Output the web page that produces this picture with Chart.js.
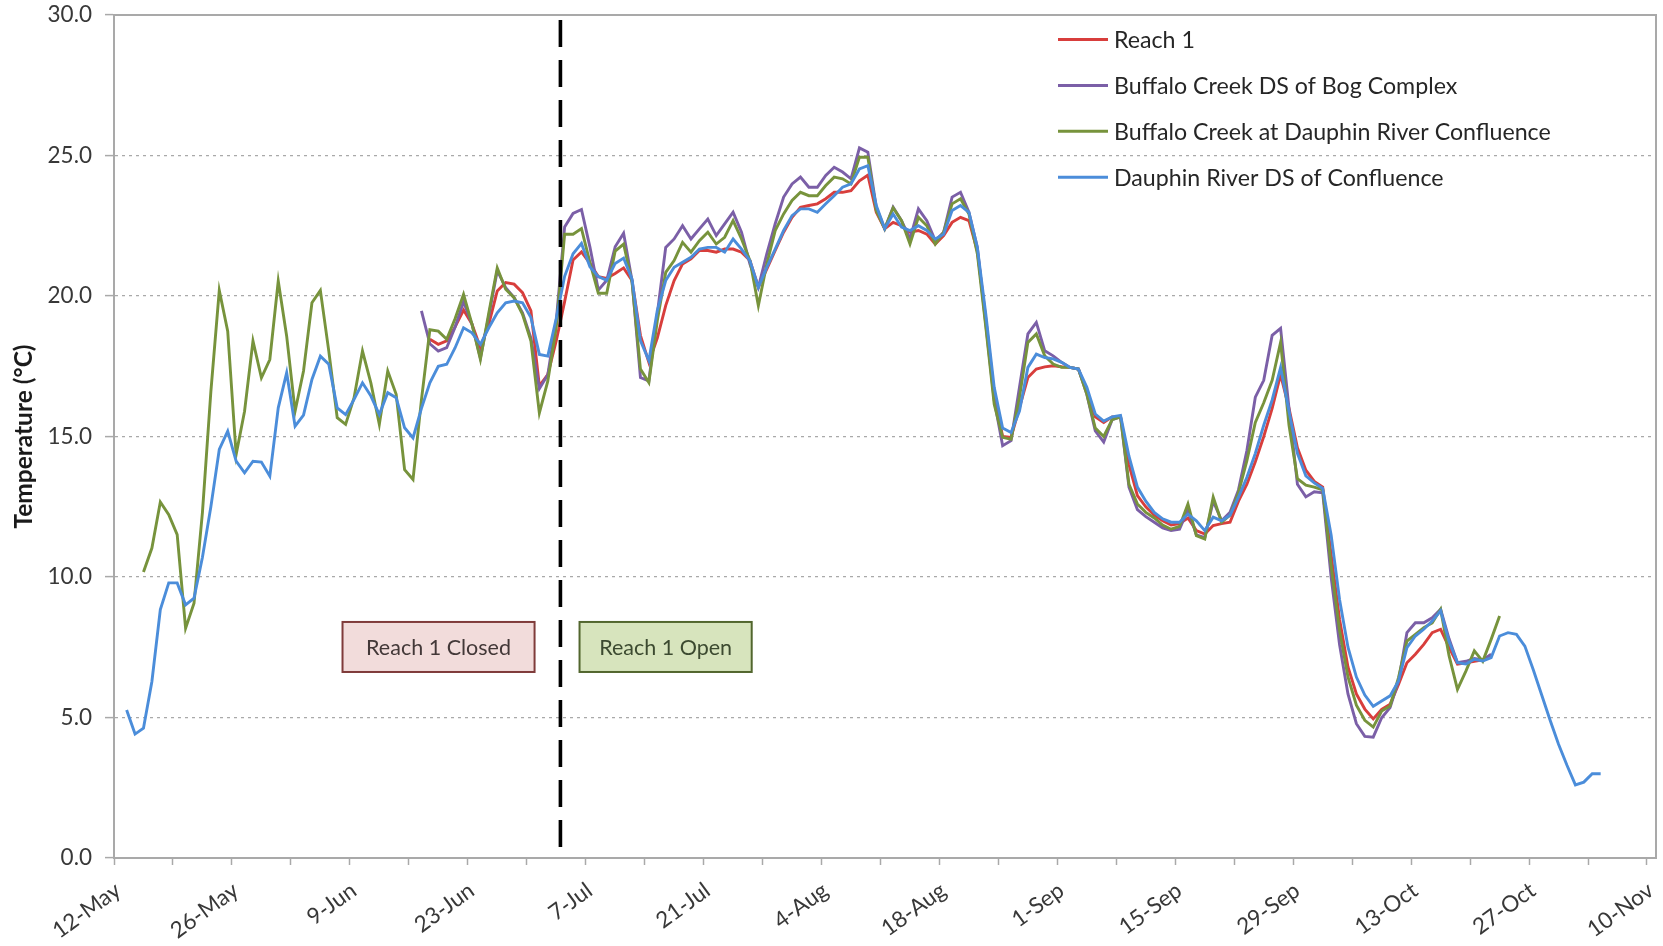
<!DOCTYPE html>
<html>
<head>
<meta charset="utf-8">
<title>Water temperature</title>
<script src="https://cdn.jsdelivr.net/npm/chart.js@4.4.1/dist/chart.umd.min.js"></script>
<style>
  html, body { margin: 0; padding: 0; background: #ffffff; overflow: hidden; }
  #wrap { width: 1663px; height: 946px; position: relative; }
</style>
</head>
<body>
<div id="wrap"><canvas id="chart"></canvas></div>
<script>
// Daily mean water temperature (°C). Day numbers count from 12-May;
// each daily mean is plotted at midday (day + 0.5).
const tickLabels = ['12-May', '26-May', '9-Jun', '23-Jun', '7-Jul', '21-Jul', '4-Aug',
                    '18-Aug', '1-Sep', '15-Sep', '29-Sep', '13-Oct', '27-Oct', '10-Nov'];

const seriesNames = ['Reach 1', 'Buffalo Creek DS of Bog Complex',
                     'Buffalo Creek at Dauphin River Confluence', 'Dauphin River DS of Confluence'];

// Reach 1 (first day 37)
const reach1Start = 37;
const reach1 = [
  18.46, 18.28, 18.4, 18.9,
  19.5, 19.0, 18.16, 19.0, 20.18, 20.48, 20.42, 20.12, 19.47, 16.8,
  17.2, 18.4, 19.8, 21.28, 21.57, 21.16, 20.69, 20.63, 20.8, 21.0,
  20.55, 18.6, 17.64, 18.5, 19.66, 20.55, 21.14, 21.32, 21.62, 21.62,
  21.56, 21.67, 21.67, 21.56, 21.26, 20.31, 20.96, 21.62, 22.27, 22.8,
  23.16, 23.22, 23.28, 23.46, 23.69, 23.69, 23.75, 24.1, 24.3, 22.98,
  22.39, 22.62, 22.5, 22.27, 22.33, 22.2, 21.85, 22.15, 22.62, 22.8,
  22.68, 21.6, 19.2, 16.5, 15.0, 14.97, 16.03, 17.1, 17.4, 17.48,
  17.52, 17.48, 17.46, 17.4, 16.6, 15.7, 15.5, 15.7, 15.7, 14.0,
  12.9, 12.5, 12.2, 12.0, 11.85, 11.9, 12.1, 11.65, 11.53, 11.83,
  11.9, 11.95, 12.7, 13.3, 14.1, 15.0, 16.0, 17.2, 16.0, 14.6,
  13.8, 13.4, 13.2, 10.8, 8.5, 6.8, 5.84, 5.3, 4.95, 5.29,
  5.47, 6.18, 6.95, 7.25, 7.6, 8.02, 8.14, 7.5, 6.9, 6.95,
  7.0, 7.05, 7.19
];

// Buffalo Creek DS of Bog Complex (first day 36)
const bogStart = 36;
const bog = [
  19.47, 18.3, 18.04, 18.16, 18.9,
  19.8, 19.0, 17.8, 19.3, 20.9, 20.3, 19.94, 19.4, 18.5, 16.7,
  17.2, 19.1, 22.46, 22.94, 23.08, 21.75, 20.21, 20.56, 21.75, 22.23,
  20.55, 17.1, 16.98, 19.36, 21.73, 22.03, 22.5, 22.03, 22.39, 22.74,
  22.15, 22.57, 22.98, 22.27, 21.14, 20.31, 21.5, 22.57, 23.52, 23.99,
  24.23, 23.87, 23.87, 24.29, 24.58, 24.41, 24.17, 25.27, 25.12, 23.16,
  22.39, 23.16, 22.68, 22.03, 23.1, 22.68, 21.97, 22.27, 23.52, 23.69,
  22.98, 21.73, 19.0, 16.3, 14.67, 14.85, 16.75, 18.65, 19.06, 18.05,
  17.87, 17.64, 17.46, 17.4, 16.5, 15.2, 14.8, 15.6, 15.7, 13.2,
  12.4, 12.15, 11.95, 11.75, 11.65, 11.7, 12.4, 11.5, 11.4, 12.7,
  12.0, 12.3, 13.1, 14.5, 16.4, 17.0, 18.6, 18.85, 16.0, 13.3,
  12.85, 13.03, 13.0, 10.0, 7.6, 5.84, 4.78, 4.33, 4.3, 4.99,
  5.35, 6.3, 8.02, 8.37, 8.37, 8.55, 8.85, 7.8, 6.95, 7.0,
  7.1, 7.05, 7.25
];

// Buffalo Creek at Dauphin River Confluence (first day 3)
const confluenceStart = 3;
const confluence = [
  10.18, 11.03, 12.67, 12.22, 11.51, 8.18, 9.07, 12.3,
  16.6, 20.2, 18.75, 14.36, 15.9, 18.4, 17.09, 17.74, 20.53, 18.57,
  15.9, 17.33, 19.76, 20.2, 18.04, 15.67, 15.43, 16.38, 18.04, 16.9,
  15.43, 17.33, 16.5, 13.82, 13.47, 16.3, 18.8, 18.75, 18.46, 19.2,
  20.06, 19.0, 17.74, 19.4, 21.0, 20.24, 19.94, 19.35, 18.4, 15.84,
  16.97, 18.87, 22.2, 22.2, 22.4, 21.2, 20.1, 20.1, 21.6, 21.85,
  20.5, 17.4, 16.92, 19.12, 20.84, 21.26, 21.91, 21.56, 21.97, 22.27,
  21.85, 22.09, 22.68, 22.03, 21.26, 19.66, 21.14, 22.33, 22.92, 23.4,
  23.69, 23.57, 23.57, 23.93, 24.23, 24.17, 23.99, 24.94, 24.94, 23.04,
  22.39, 23.14, 22.68, 21.85, 22.8, 22.5, 21.85, 22.27, 23.28, 23.46,
  22.92, 21.5, 18.9, 16.15, 14.97, 14.9, 16.39, 18.35, 18.65, 17.87,
  17.58, 17.46, 17.46, 17.4, 16.5, 15.3, 15.0, 15.6, 15.7, 13.3,
  12.6, 12.3, 12.1, 11.85, 11.7, 11.8, 12.6, 11.47, 11.35, 12.84,
  11.95, 12.2, 13.0, 14.14, 15.5, 16.2, 17.0, 18.35, 15.4, 13.5,
  13.27, 13.2, 13.1, 10.4, 8.1, 6.44, 5.44, 4.9, 4.66, 5.23,
  5.41, 6.42, 7.72, 7.96, 8.2, 8.37, 8.85, 7.2, 6.0, 6.65,
  7.37, 7.0, 7.78, 8.61
];

// Dauphin River DS of Confluence (first day 1)
const dauphinStart = 1;
const dauphin = [
  5.27, 4.41, 4.62, 6.28, 8.84, 9.79, 9.79, 9.01, 9.25, 10.7,
  12.5, 14.54, 15.19, 14.12, 13.71, 14.12, 14.09, 13.59, 16.02, 17.27,
  15.37, 15.76, 17.03, 17.86, 17.57, 16.02, 15.78, 16.32, 16.91, 16.44,
  15.78, 16.56, 16.38, 15.31, 14.95, 16.0, 16.91, 17.5, 17.57, 18.16,
  18.87, 18.69, 18.28, 18.87, 19.4, 19.76, 19.82, 19.76, 19.23, 17.92,
  17.86, 19.2, 20.7, 21.5, 21.87, 21.04, 20.69, 20.56, 21.16, 21.35,
  20.6, 18.41, 17.7, 19.48, 20.55, 21.02, 21.2, 21.38, 21.67, 21.73,
  21.73, 21.56, 22.03, 21.67, 21.26, 20.31, 21.02, 21.67, 22.33, 22.86,
  23.1, 23.1, 22.98, 23.28, 23.57, 23.87, 23.99, 24.52, 24.64, 23.22,
  22.4, 22.92, 22.45, 22.33, 22.5, 22.33, 22.03, 22.2, 23.04, 23.22,
  22.98, 21.73, 19.36, 16.75, 15.3, 15.14, 15.9, 17.46, 17.93, 17.81,
  17.76, 17.64, 17.46, 17.4, 16.75, 15.8, 15.55, 15.7, 15.75, 14.3,
  13.2, 12.7, 12.3, 12.07, 11.95, 11.95, 12.24, 12.0, 11.65, 12.13,
  12.0, 12.2, 12.84, 13.55, 14.4, 15.4, 16.3, 17.45, 15.9, 14.4,
  13.6, 13.35, 13.15, 11.5, 9.2, 7.5, 6.44, 5.8, 5.4, 5.59,
  5.77, 6.3, 7.49, 7.9, 8.14, 8.43, 8.8, 7.7, 6.95, 6.9,
  7.07, 7.01, 7.13, 7.9, 8.02, 7.96, 7.54, 6.7, 5.8, 4.9,
  4.05, 3.3, 2.6, 2.7, 3.0, 3.0
];

// Day Reach 1 re-opened (4-Jul)
const reachOpenDay = 53;

const seriesColors = ['#d83e3c', '#7b5fa7', '#77933c', '#4b8dda'];

function toPoints(startDay, values) {
  return values.map((v, i) => ({ x: startDay + i + 0.5, y: v }));
}

const GRID_GREY = '#a9a9a9';
const TEXT_DARK = '#383838';

// Key in the upper right of the plot area
const seriesKey = {
  id: 'seriesKey',
  afterDraw(chart, args, opts) {
    const { ctx, chartArea } = chart;
    ctx.save();
    ctx.font = opts.fontSize + 'px Lato';
    ctx.textBaseline = 'middle';
    ctx.textAlign = 'left';
    let row = 0;
    chart.data.datasets.forEach((ds) => {
      if (!ds.inKey) return;
      const y = chartArea.top + opts.firstRow + row * opts.rowGap;
      const x0 = chartArea.right - opts.fromRight;
      ctx.strokeStyle = ds.borderColor;
      ctx.lineWidth = 3;
      ctx.beginPath();
      ctx.moveTo(x0, y);
      ctx.lineTo(x0 + opts.lineLength, y);
      ctx.stroke();
      ctx.fillStyle = '#262626';
      ctx.fillText(ds.label, x0 + opts.lineLength + opts.gap, y + 1);
      row++;
    });
    ctx.restore();
  }
};

// Labelled boxes placed in data coordinates
const periodBoxes = {
  id: 'periodBoxes',
  afterDatasetsDraw(chart, args, opts) {
    const { ctx, scales } = chart;
    ctx.save();
    opts.boxes.forEach((b) => {
      const left = scales.x.getPixelForValue(b.x0);
      const right = scales.x.getPixelForValue(b.x1);
      const top = scales.y.getPixelForValue(b.y1);
      const bottom = scales.y.getPixelForValue(b.y0);
      ctx.fillStyle = b.fill;
      ctx.fillRect(left, top, right - left, bottom - top);
      ctx.strokeStyle = b.stroke;
      ctx.lineWidth = 2;
      ctx.strokeRect(left, top, right - left, bottom - top);
      ctx.fillStyle = b.textColor;
      ctx.font = opts.fontSize + 'px Lato';
      ctx.textAlign = 'center';
      ctx.textBaseline = 'middle';
      ctx.fillText(b.text, (left + right) / 2, (top + bottom) / 2 + 1);
    });
    ctx.restore();
  }
};

const lineStyle = { borderWidth: 2.9, pointRadius: 0, pointHoverRadius: 0, tension: 0, fill: false };

const datasets = [
  { label: seriesNames[0], data: toPoints(reach1Start, reach1), borderColor: seriesColors[0], order: 4, inKey: true, ...lineStyle },
  { label: seriesNames[1], data: toPoints(bogStart, bog), borderColor: seriesColors[1], order: 3, inKey: true, ...lineStyle },
  { label: seriesNames[2], data: toPoints(confluenceStart, confluence), borderColor: seriesColors[2], order: 2, inKey: true, ...lineStyle },
  { label: seriesNames[3], data: toPoints(dauphinStart, dauphin), borderColor: seriesColors[3], order: 1, inKey: true, ...lineStyle },
  {
    label: 'Reach 1 opening',
    data: [{ x: reachOpenDay, y: 29.82 }, { x: reachOpenDay, y: 0 }],
    borderColor: '#000000', borderWidth: 3.6, borderDash: [27, 13],
    pointRadius: 0, pointHoverRadius: 0, order: 0, inKey: false
  }
];

Chart.defaults.font.family = 'Lato';

new Chart(document.getElementById('chart'), {
  type: 'line',
  data: { datasets },
  plugins: [periodBoxes, seriesKey],
  options: {
    responsive: true,
    maintainAspectRatio: false,
    devicePixelRatio: 1,
    animation: false,
    layout: { padding: { left: 0, top: 15, right: 7, bottom: 0 } },
    plugins: {
      legend: { display: false },
      tooltip: { enabled: false },
      seriesKey: { fontSize: 23.2, firstRow: 24.5, rowGap: 45.9, fromRight: 598, lineLength: 50, gap: 6 },
      periodBoxes: {
        fontSize: 21.5,
        boxes: [
          { text: 'Reach 1 Closed', x0: 27.13, x1: 49.93, y0: 6.62, y1: 8.4,
            fill: '#f2dcdb', stroke: '#7f3b3a', textColor: '#433838' },
          { text: 'Reach 1 Open', x0: 55.27, x1: 75.71, y0: 6.62, y1: 8.4,
            fill: '#d7e4bd', stroke: '#52662e', textColor: '#3c4a30' }
        ]
      }
    },
    scales: {
      x: {
        type: 'linear', min: 0, max: 183.07,
        afterBuildTicks: (scale) => {
          const t = [];
          for (let d = 0; d <= 182; d += 7) t.push({ value: d });
          scale.ticks = t;
        },
        afterFit: (scale) => { scale.height = 88; scale.paddingLeft = 0; scale.paddingRight = 0; },
        ticks: {
          autoSkip: false, minRotation: 36, maxRotation: 36, padding: 12, labelOffset: 4,
          color: TEXT_DARK, font: { size: 22.5 },
          callback: (v) => (v % 14 === 0 ? tickLabels[v / 14] : '')
        },
        grid: { drawOnChartArea: false, drawTicks: true, tickLength: 7, tickColor: GRID_GREY, tickWidth: 1.5 },
        border: { color: GRID_GREY, width: 2 }
      },
      y: {
        min: 0, max: 30,
        afterFit: (scale) => { scale.width = 114; scale.paddingTop = 0; scale.paddingBottom = 0; },
        ticks: { stepSize: 5, padding: 13, color: TEXT_DARK, font: { size: 22.5 }, callback: (v) => v.toFixed(1) },
        grid: {
          color: (c) => (c.tick && (c.tick.value === 0 || c.tick.value === 30) ? 'rgba(0,0,0,0)' : GRID_GREY),
          lineWidth: 1.2, tickLength: 9, tickColor: GRID_GREY, tickWidth: 1.5
        },
        border: { color: GRID_GREY, width: 2, dash: [3, 4] },
        title: { display: true, text: 'Temperature (°C)', color: '#1a1a1a',
                 font: { size: 24.5, weight: 'bold' }, padding: { top: 9, bottom: 0 } }
      },
      xFrame: {
        type: 'linear', position: 'top', min: 0, max: 1,
        afterFit: (scale) => { scale.height = 0; },
        ticks: { display: false }, grid: { display: false },
        border: { color: GRID_GREY, width: 2 }
      },
      yFrame: {
        type: 'linear', position: 'right', min: 0, max: 1,
        afterFit: (scale) => { scale.width = 0; },
        ticks: { display: false }, grid: { display: false },
        border: { color: GRID_GREY, width: 2 }
      }
    }
  }
});
</script>
</body>
</html>
